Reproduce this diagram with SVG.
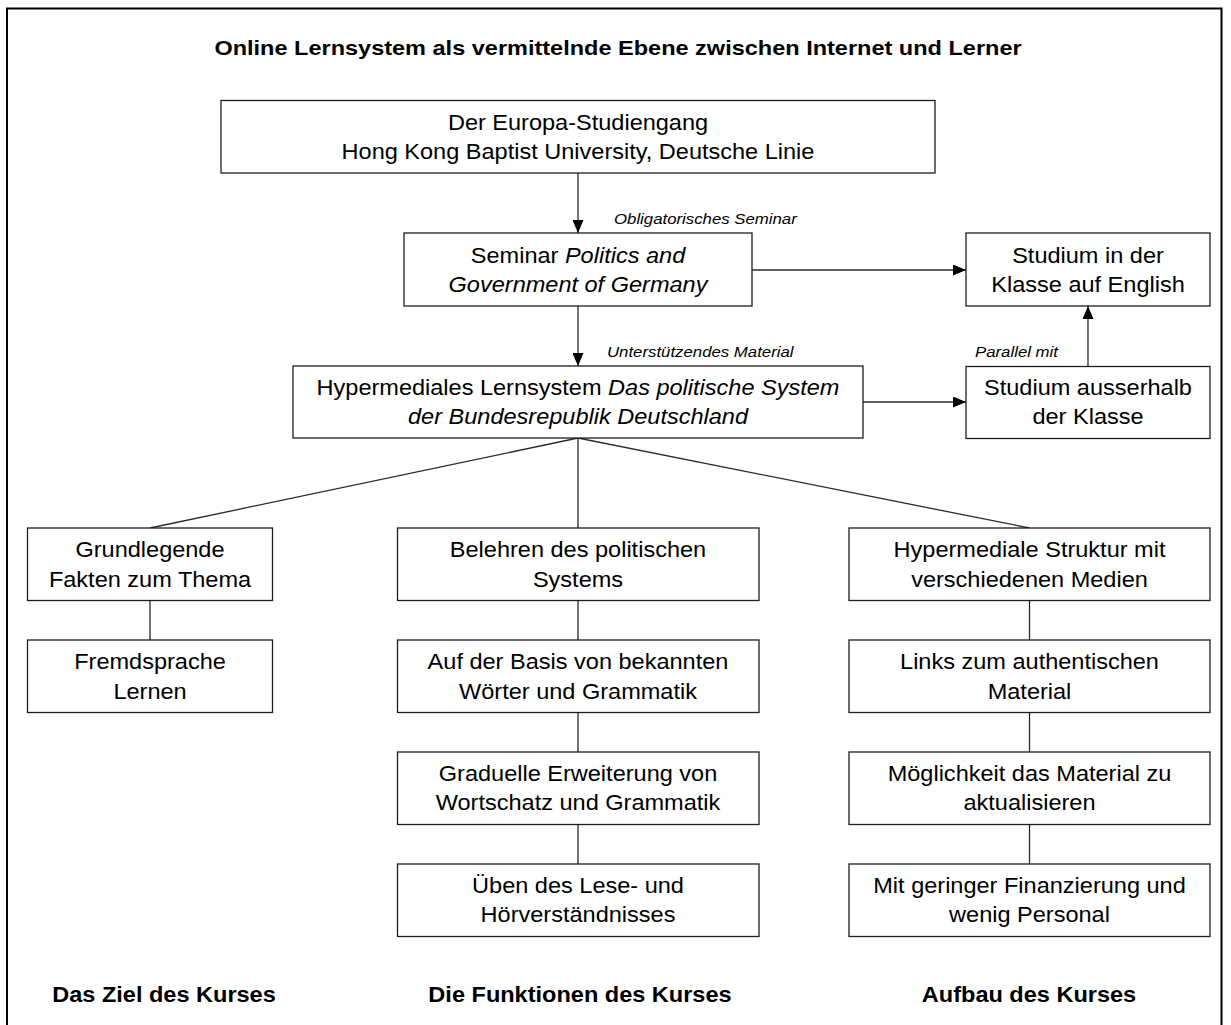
<svg xmlns="http://www.w3.org/2000/svg" width="1231" height="1025" viewBox="0 0 1231 1025">
  <style>
    .frame { fill: none; stroke: #000; stroke-width: 2; }
    .box { fill: #fff; stroke: #1e1e1e; stroke-width: 1.3; }
    .link { fill: none; stroke: #2a2a2a; stroke-width: 1.3; }
    text { font-family: "Liberation Sans", Arial, sans-serif; fill: #000; }
    .t { font-size: 22px; text-anchor: middle; }
    .hd { font-size: 22px; font-weight: bold; text-anchor: middle; }
    .title { font-size: 21px; font-weight: bold; text-anchor: middle; }
    .lbl { font-size: 15px; font-style: italic; text-anchor: start; }
    .it { font-style: italic; }
  </style>
  <defs>
    <marker id="arrow" markerUnits="userSpaceOnUse" markerWidth="13" markerHeight="11" refX="13" refY="5.5" orient="auto">
      <path d="M0,0 L13,5.5 L0,11 Z" fill="#000"/>
    </marker>
  </defs>

  <rect x="0" y="0" width="1231" height="1025" fill="#fff"/>
  <!-- outer frame (bottom edge lies outside the page) -->
  <path class="frame" d="M7,1030 L7,8.5 L1221.5,8.5 L1221.5,1030"/>

  <!-- heading -->
  <text class="title" transform="translate(618 55) scale(1.12 1)">Online Lernsystem als vermittelnde Ebene zwischen Internet und Lerner</text>

  <!-- connectors -->
  <g id="connectors">
    <line class="link" x1="578" y1="173" x2="578" y2="233" marker-end="url(#arrow)"/>
    <line class="link" x1="752" y1="270" x2="966" y2="270" marker-end="url(#arrow)"/>
    <line class="link" x1="578" y1="306" x2="578" y2="366" marker-end="url(#arrow)"/>
    <line class="link" x1="863" y1="402" x2="966" y2="402" marker-end="url(#arrow)"/>
    <line class="link" x1="1088" y1="367" x2="1088" y2="306" marker-end="url(#arrow)"/>
    <line class="link" x1="578" y1="438" x2="150" y2="528"/>
    <line class="link" x1="578" y1="438" x2="578" y2="528"/>
    <line class="link" x1="578" y1="438" x2="1029.5" y2="528"/>
    <line class="link" x1="150" y1="600.5" x2="150" y2="640"/>
    <line class="link" x1="578" y1="600.5" x2="578" y2="640"/>
    <line class="link" x1="578" y1="712.5" x2="578" y2="752"/>
    <line class="link" x1="578" y1="824.5" x2="578" y2="864"/>
    <line class="link" x1="1029.5" y1="600.5" x2="1029.5" y2="640"/>
    <line class="link" x1="1029.5" y1="712.5" x2="1029.5" y2="752"/>
    <line class="link" x1="1029.5" y1="824.5" x2="1029.5" y2="864"/>
  </g>

  <!-- edge labels -->
  <text class="lbl" transform="translate(614 224) scale(1.12 1)">Obligatorisches Seminar</text>
  <text class="lbl" transform="translate(607 357) scale(1.12 1)">Unterstützendes Material</text>
  <text class="lbl" transform="translate(975 357) scale(1.12 1)">Parallel mit</text>

  <!-- upper chain -->
  <g id="europa">
    <rect class="box" x="221" y="100.5" width="714" height="72.5"/>
    <text class="t" transform="translate(578 130) scale(1.07 1)">Der Europa-Studiengang</text>
    <text class="t" transform="translate(578 158.5) scale(1.07 1)">Hong Kong Baptist University, Deutsche Linie</text>
  </g>
  <g id="seminar">
    <rect class="box" x="404" y="233" width="348" height="73"/>
    <text class="t" transform="translate(578 263) scale(1.07 1)">Seminar <tspan class="it">Politics and</tspan></text>
    <text class="t it" transform="translate(578 291.5) scale(1.07 1)">Government of Germany</text>
  </g>
  <g id="klasse">
    <rect class="box" x="966" y="233" width="244" height="73"/>
    <text class="t" transform="translate(1088 263) scale(1.07 1)">Studium in der</text>
    <text class="t" transform="translate(1088 291.5) scale(1.07 1)">Klasse auf English</text>
  </g>
  <g id="lernsystem">
    <rect class="box" x="293" y="366" width="570" height="72"/>
    <text class="t" transform="translate(578 395) scale(1.07 1)">Hypermediales Lernsystem <tspan class="it">Das politische System</tspan></text>
    <text class="t it" transform="translate(578 424) scale(1.07 1)">der Bundesrepublik Deutschland</text>
  </g>
  <g id="ausserhalb">
    <rect class="box" x="966" y="366.5" width="244" height="72"/>
    <text class="t" transform="translate(1088 395) scale(1.07 1)">Studium ausserhalb</text>
    <text class="t" transform="translate(1088 423.5) scale(1.07 1)">der Klasse</text>
  </g>

  <!-- left column: goal -->
  <g id="fakten">
    <rect class="box" x="27.5" y="528" width="245" height="72.5"/>
    <text class="t" transform="translate(150 557) scale(1.07 1)">Grundlegende</text>
    <text class="t" transform="translate(150 586.5) scale(1.07 1)">Fakten zum Thema</text>
  </g>
  <g id="fremdsprache">
    <rect class="box" x="27.5" y="640" width="245" height="72.5"/>
    <text class="t" transform="translate(150 669) scale(1.07 1)">Fremdsprache</text>
    <text class="t" transform="translate(150 698.5) scale(1.07 1)">Lernen</text>
  </g>

  <!-- middle column: functions -->
  <g id="belehren">
    <rect class="box" x="397.5" y="528" width="361.5" height="72.5"/>
    <text class="t" transform="translate(578 557) scale(1.07 1)">Belehren des politischen</text>
    <text class="t" transform="translate(578 586.5) scale(1.07 1)">Systems</text>
  </g>
  <g id="basis">
    <rect class="box" x="397.5" y="640" width="361.5" height="72.5"/>
    <text class="t" transform="translate(578 669) scale(1.07 1)">Auf der Basis von bekannten</text>
    <text class="t" transform="translate(578 698.5) scale(1.07 1)">Wörter und Grammatik</text>
  </g>
  <g id="erweiterung">
    <rect class="box" x="397.5" y="752" width="361.5" height="72.5"/>
    <text class="t" transform="translate(578 781) scale(1.07 1)">Graduelle Erweiterung von</text>
    <text class="t" transform="translate(578 810) scale(1.07 1)">Wortschatz und Grammatik</text>
  </g>
  <g id="ueben">
    <rect class="box" x="397.5" y="864" width="361.5" height="72.5"/>
    <text class="t" transform="translate(578 893) scale(1.07 1)">Üben des Lese- und</text>
    <text class="t" transform="translate(578 922) scale(1.07 1)">Hörverständnisses</text>
  </g>

  <!-- right column: structure -->
  <g id="struktur">
    <rect class="box" x="849" y="528" width="361" height="72.5"/>
    <text class="t" transform="translate(1029.5 557) scale(1.07 1)">Hypermediale Struktur mit</text>
    <text class="t" transform="translate(1029.5 586.5) scale(1.07 1)">verschiedenen Medien</text>
  </g>
  <g id="links">
    <rect class="box" x="849" y="640" width="361" height="72.5"/>
    <text class="t" transform="translate(1029.5 669) scale(1.07 1)">Links zum authentischen</text>
    <text class="t" transform="translate(1029.5 698.5) scale(1.07 1)">Material</text>
  </g>
  <g id="aktualisieren">
    <rect class="box" x="849" y="752" width="361" height="72.5"/>
    <text class="t" transform="translate(1029.5 781) scale(1.07 1)">Möglichkeit das Material zu</text>
    <text class="t" transform="translate(1029.5 810) scale(1.07 1)">aktualisieren</text>
  </g>
  <g id="finanzierung">
    <rect class="box" x="849" y="864" width="361" height="72.5"/>
    <text class="t" transform="translate(1029.5 893) scale(1.07 1)">Mit geringer Finanzierung und</text>
    <text class="t" transform="translate(1029.5 922) scale(1.07 1)">wenig Personal</text>
  </g>

  <!-- column captions -->
  <text class="hd" transform="translate(164 1001.5) scale(1.07 1)">Das Ziel des Kurses</text>
  <text class="hd" transform="translate(580 1001.5) scale(1.07 1)">Die Funktionen des Kurses</text>
  <text class="hd" transform="translate(1029 1001.5) scale(1.07 1)">Aufbau des Kurses</text>
</svg>
